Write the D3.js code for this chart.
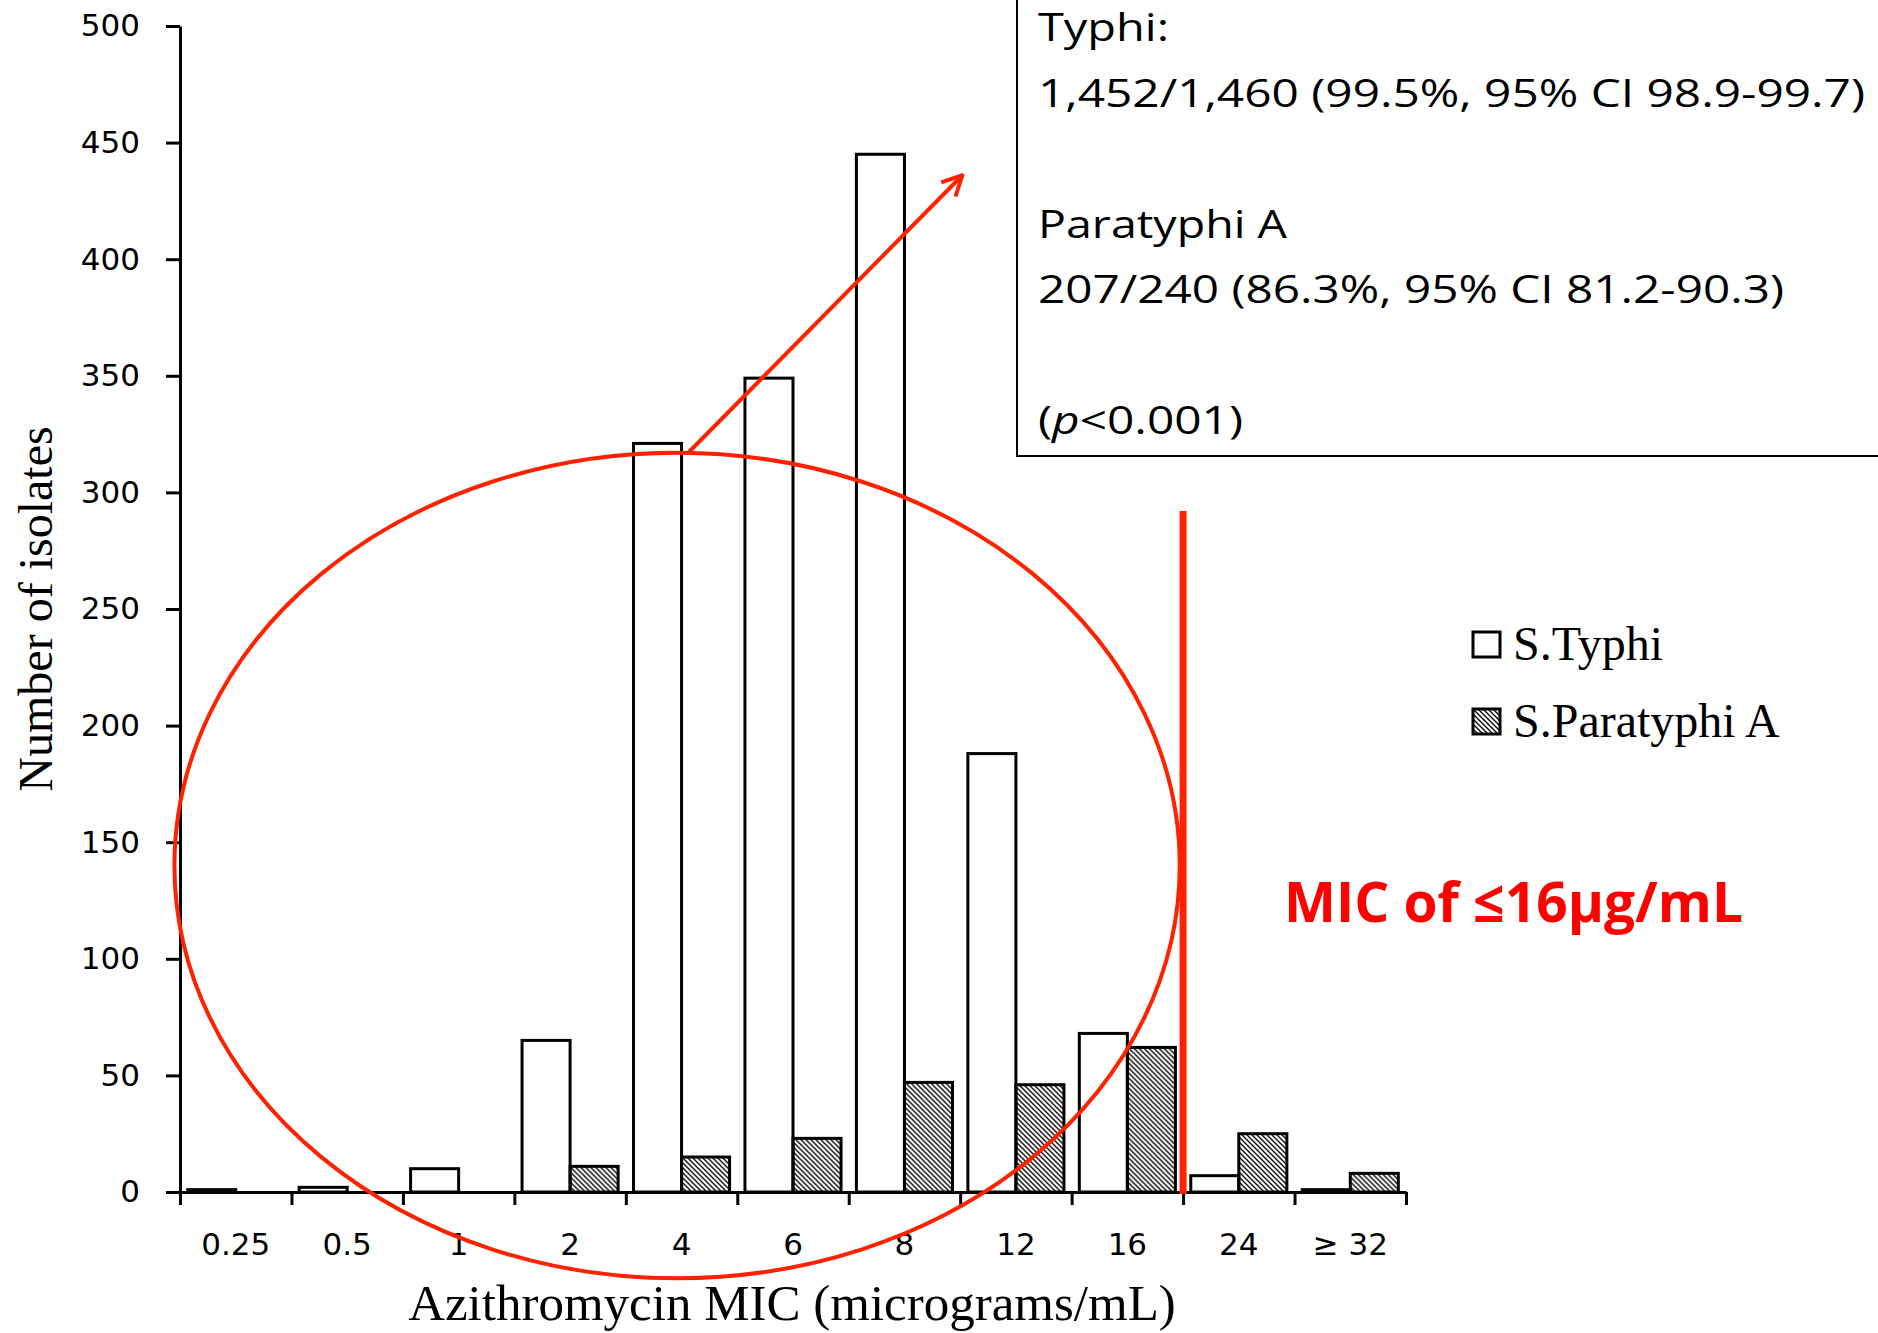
<!DOCTYPE html>
<html>
<head>
<meta charset="utf-8">
<script src="https://cdn.jsdelivr.net/npm/d3@7"></script>
<style>
  body { margin: 0; background: #fff; }
  svg { display: block; }
</style>
</head>
<body>
<div class="svg-div"></div>
<script>
// values
const categories = ["0.25", "0.5", "1", "2", "4", "6", "8", "12", "16", "24", "\u2265 32"];
const typhi = [1, 2, 10, 65, 321, 349, 445, 188, 68, 7, 1];
const paratyphiA = [0, 0, 0, 11, 15, 23, 47, 46, 62, 25, 8];
const seriesNames = ["S.Typhi", "S.Paratyphi A"];
const yTickValues = [0, 50, 100, 150, 200, 250, 300, 350, 400, 450, 500];
const boxLines = [
  "Typhi:",
  "1,452/1,460 (99.5%, 95% CI 98.9-99.7)",
  "",
  "Paratyphi A",
  "207/240 (86.3%, 95% CI 81.2-90.3)",
  "",
  "(p<0.001)"
];

const svgWidth = 1878, svgHeight = 1333;
const margin = {top: 26, right: 472, bottom: 141, left: 180};
const width = svgWidth - margin.left - margin.right;
const height = svgHeight - margin.top - margin.bottom;
const red = "#ff2200";

const svg = d3.select(".svg-div").append("svg")
  .attr("width", svgWidth)
  .attr("height", svgHeight);

const defs = svg.append("defs");
defs.append("pattern")
  .attr("id", "hatch")
  .attr("patternUnits", "userSpaceOnUse")
  .attr("width", 5).attr("height", 5)
  .append("path")
  .attr("d", "M-1,-1L6,6M-1,4L1,6M4,-1L6,1")
  .attr("stroke", "#000")
  .attr("stroke-width", 1.3);

defs.append("marker")
  .attr("id", "arrow")
  .attr("markerUnits", "userSpaceOnUse")
  .attr("viewBox", "0 0 24 24")
  .attr("refX", 22).attr("refY", 12)
  .attr("markerWidth", 24).attr("markerHeight", 24)
  .attr("orient", "auto")
  .append("path")
  .attr("d", "M2,2L22,12L2,22")
  .attr("fill", "none")
  .attr("stroke", red)
  .attr("stroke-width", 4);

const g = svg.append("g")
  .attr("transform", "translate(" + margin.left + "," + margin.top + ")");

const x0 = d3.scaleBand().domain(categories).range([0, width]).padding(0);
const x1 = d3.scaleBand().domain(seriesNames).range([0, x0.bandwidth()])
  .paddingInner(0).paddingOuter(0.16);
const xb = d3.scaleLinear().domain([0, categories.length]).range([0, width]);
const y = d3.scaleLinear().domain([0, 500]).range([height, 0]);

const data = categories.map((c, i) => ({cat: c, values: [typhi[i], paratyphiA[i]]}));

// bars
const groups = g.selectAll(".grp")
  .data(data)
  .enter().append("g")
  .attr("class", "grp")
  .attr("transform", d => "translate(" + x0(d.cat) + ",0)");

groups.selectAll("rect")
  .data(d => d.values.map((v, j) => ({key: seriesNames[j], v: v})).filter(e => e.v > 0))
  .enter().append("rect")
  .attr("x", d => x1(d.key))
  .attr("width", x1.bandwidth())
  .attr("y", d => y(d.v))
  .attr("height", d => height - y(d.v))
  .attr("fill", d => d.key === seriesNames[0] ? "#fff" : "url(#hatch)")
  .attr("stroke", "#000")
  .attr("stroke-width", 3);

// y axis
const yAxis = g.append("g")
  .call(d3.axisLeft(y).tickValues(yTickValues).tickSize(14).tickSizeOuter(0).tickPadding(26));
yAxis.selectAll("text")
  .attr("font-family", "DejaVu Sans")
  .attr("font-size", 31)
  .attr("fill", "#000");

// x axis: boundary ticks + centered labels
g.append("g")
  .attr("transform", "translate(0," + height + ")")
  .call(d3.axisBottom(xb).tickValues(d3.range(0, categories.length + 1)).tickFormat("").tickSize(13).tickSizeOuter(0));
const xLabels = g.append("g")
  .attr("transform", "translate(0," + height + ")")
  .call(d3.axisBottom(x0).tickSize(0).tickPadding(41));
xLabels.select(".domain").remove();
xLabels.selectAll("text")
  .attr("font-family", "DejaVu Sans")
  .attr("font-size", 31)
  .attr("fill", "#000");

svg.selectAll(".domain, .tick line").attr("stroke", "#000").attr("stroke-width", 3);

// axis titles
g.append("text")
  .attr("x", 612)
  .attr("y", height + 128)
  .attr("text-anchor", "middle")
  .attr("font-family", "Liberation Serif")
  .attr("font-size", 51)
  .text("Azithromycin MIC (micrograms/mL)");

g.append("text")
  .attr("transform", "translate(" + (52 - margin.left) + "," + y(250) + ") rotate(-90)")
  .attr("text-anchor", "middle")
  .attr("font-family", "Liberation Serif")
  .attr("font-size", 48)
  .text("Number of isolates");

// legend
const legend = svg.append("g").attr("transform", "translate(1473,632)");
seriesNames.forEach((name, i) => {
  const row = legend.append("g").attr("transform", "translate(0," + (i * 77) + ")");
  row.append("rect")
    .attr("width", 27).attr("height", 25)
    .attr("fill", i === 0 ? "#fff" : "url(#hatch)")
    .attr("stroke", "#000").attr("stroke-width", 3);
  row.append("text")
    .attr("x", 40).attr("y", 28)
    .attr("font-family", "Liberation Serif")
    .attr("font-size", 48)
    .text(name);
});

// annotations in data units
g.append("ellipse")
  .attr("cx", xb(4.46))
  .attr("cy", y(140))
  .attr("rx", xb(4.51) - xb(0))
  .attr("ry", y(0) - y(177))
  .attr("fill", "none")
  .attr("stroke", red)
  .attr("stroke-width", 4);

g.append("line")
  .attr("x1", xb(9)).attr("x2", xb(9))
  .attr("y1", y(292)).attr("y2", y(0) + 2)
  .attr("stroke", red)
  .attr("stroke-width", 7);

g.append("line")
  .attr("x1", xb(4.56)).attr("y1", y(317))
  .attr("x2", xb(7.02)).attr("y2", y(436))
  .attr("stroke", red)
  .attr("stroke-width", 4)
  .attr("marker-end", "url(#arrow)");

svg.append("text")
  .attr("x", 1284).attr("y", 922)
  .attr("font-family", "Open Sans")
  .attr("font-weight", "bold")
  .attr("font-size", 56)
  .attr("fill", "#ff0000")
  .attr("textLength", 459)
  .attr("lengthAdjust", "spacingAndGlyphs")
  .text("MIC of \u226416\u00b5g/mL");

// stats box
svg.append("rect")
  .attr("x", 1017).attr("y", -10)
  .attr("width", 900).attr("height", 466)
  .attr("fill", "#fff")
  .attr("stroke", "#000")
  .attr("stroke-width", 2);

const boxWidths = [131, 827, 0, 249, 746, 0, 205];
const box = svg.append("g").attr("font-family", "Open Sans").attr("font-size", 39);
boxLines.forEach((line, i) => {
  if (!line) return;
  const t = box.append("text")
    .attr("x", 1038)
    .attr("y", 41 + i * 65.5)
    .attr("textLength", boxWidths[i])
    .attr("lengthAdjust", "spacingAndGlyphs");
  if (line.startsWith("(p")) {
    t.append("tspan").text("(");
    t.append("tspan").attr("font-style", "italic").text("p");
    t.append("tspan").text(line.slice(2));
  } else {
    t.text(line);
  }
});
</script>
</body>
</html>
